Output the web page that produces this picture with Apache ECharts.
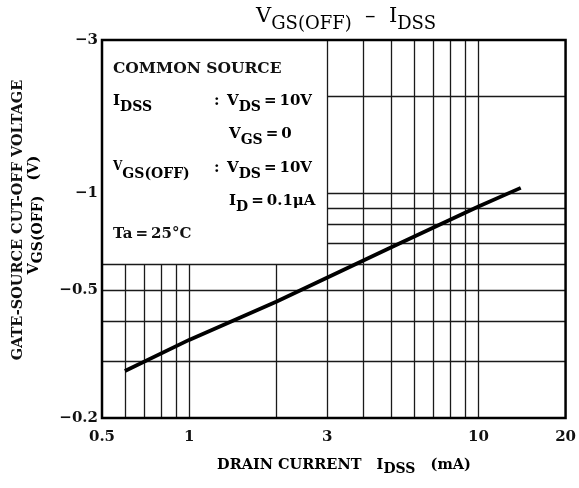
<!DOCTYPE html>
<html>
<head>
<meta charset="utf-8">
<script src="https://cdn.jsdelivr.net/npm/echarts@6/dist/echarts.min.js"></script>
<style>
html,body{margin:0;padding:0;background:#fff;}
#c{width:579px;height:488px;}
</style>
</head>
<body>
<div id="c"></div>
<script>
// Data (IDSS in mA, VGS(OFF) in V)
const idss = [0.6, 1, 2, 5, 10, 14];
const vgsOff = [-0.28, -0.35, -0.46, -0.68, -0.91, -1.04];

// Tick labels
const xTicks = [0.5, 1, 3, 10, 20];
const yTicks = [-0.2, -0.5, -1, -3];

// Grid lines (log grid); upper-left region is covered by the condition box
const xGridFull = [3, 4, 5, 6, 7, 8, 9, 10];
const xGridLow = [0.6, 0.7, 0.8, 0.9, 1, 2];
const yGridFull = [-0.3, -0.4, -0.5, -0.6];
const yGridRight = [-0.7, -0.8, -0.9, -1, -2];

const FONT = 'DejaVu Serif';
const xMin = 0.5, xMax = 20, yMin = 0.2, yMax = 3;
const boxX = 3, boxY = 0.6;

const gridSegs = [];
xGridFull.forEach(x => gridSegs.push([{coord: [x, yMin]}, {coord: [x, yMax]}]));
xGridLow.forEach(x => gridSegs.push([{coord: [x, yMin]}, {coord: [x, boxY]}]));
yGridFull.forEach(y => gridSegs.push([{coord: [xMin, -y]}, {coord: [xMax, -y]}]));
yGridRight.forEach(y => gridSegs.push([{coord: [boxX, -y]}, {coord: [xMax, -y]}]));

function richSet(main, subSize, weight, drop) {
  return {
    v: {fontFamily: FONT, fontWeight: weight, fontSize: main, color: '#111', verticalAlign: 'top', lineHeight: main + 2},
    s: {fontFamily: FONT, fontWeight: weight, fontSize: subSize, color: '#111', verticalAlign: 'bottom', lineHeight: main + 2 + drop},
    u: {fontFamily: FONT, fontWeight: weight, fontSize: main - 3, color: '#111', verticalAlign: 'top', lineHeight: main}
  };
}
const sub = richSet(15, 14, 'bold', 3);
const T = '\u2009=\u2009';

const chart = echarts.init(document.getElementById('c'), null, {renderer: 'canvas'});
chart.setOption({
  animation: false,
  backgroundColor: '#fff',
  grid: {left: 102, right: 13, top: 40, bottom: 70, show: true, borderColor: '#000', borderWidth: 2.5, z: 10},
  xAxis: {
    type: 'log', logBase: 10, min: xMin, max: xMax,
    axisLine: {show: false}, axisTick: {show: false}, splitLine: {show: false}, minorSplitLine: {show: false},
    axisLabel: {customValues: xTicks, margin: 12, fontFamily: FONT, fontWeight: 'bold', fontSize: 15, color: '#111',
      formatter: v => String(+v.toPrecision(3))}
  },
  yAxis: {
    type: 'log', logBase: 10, min: yMin, max: yMax,
    axisLine: {show: false}, axisTick: {show: false}, splitLine: {show: false}, minorSplitLine: {show: false},
    axisLabel: {customValues: yTicks.map(v => -v), margin: 4, fontFamily: FONT, fontWeight: 'bold', fontSize: 15, color: '#111',
      formatter: v => '\u2212' + String(+(+v).toPrecision(3))}
  },
  series: [
    {
      type: 'line', data: [], silent: true,
      markLine: {silent: true, symbol: 'none', label: {show: false},
        lineStyle: {color: '#1a1a1a', width: 1.3, type: 'solid'}, data: gridSegs, animation: false}
    },
    {
      type: 'line', data: idss.map((x, i) => [x, -vgsOff[i]]), showSymbol: false, symbol: 'none',
      lineStyle: {color: '#000', width: 3.8}, z: 5
    }
  ],
  graphic: [
    {type: 'text', x: 346, y: 20, style: {
      text: '{v|V}{s|GS(OFF)}{v|  \u2013  I}{s|DSS}', align: 'center', verticalAlign: 'middle',
      rich: richSet(21, 18, 'normal', 4)}},
    {type: 'text', x: 113, y: 69, style: {text: 'COMMON SOURCE', fontFamily: FONT, fontWeight: 'bold', fontSize: 15.5, fill: '#111', verticalAlign: 'middle'}},
    {type: 'text', x: 113, y: 104, style: {text: '{v|I}{s|DSS}', verticalAlign: 'middle', rich: sub}},
    {type: 'text', x: 214, y: 104, style: {text: '{v|:\u2002V}{s|DS}{v|' + T + '10V}', verticalAlign: 'middle', rich: sub}},
    {type: 'text', x: 229, y: 137, style: {text: '{v|V}{s|GS}{v|' + T + '0}', verticalAlign: 'middle', rich: sub}},
    {type: 'text', x: 113, y: 171, style: {text: '{u|V}{s|GS(OFF)}', verticalAlign: 'middle', rich: sub}},
    {type: 'text', x: 214, y: 171, style: {text: '{v|:\u2002V}{s|DS}{v|' + T + '10V}', verticalAlign: 'middle', rich: sub}},
    {type: 'text', x: 229, y: 204, style: {text: '{v|I}{s|D}{v|' + T + '0.1\u03bcA}', verticalAlign: 'middle', rich: sub}},
    {type: 'text', x: 113, y: 234, style: {text: 'Ta' + T + '25\u00b0C', fontFamily: FONT, fontWeight: 'bold', fontSize: 15, fill: '#111', verticalAlign: 'middle'}},
    {type: 'text', x: 344, y: 467, style: {text: '{v|DRAIN CURRENT   I}{s|DSS}{v|   (mA)}', align: 'center', verticalAlign: 'middle', rich: richSet(14.5, 14, 'bold', 3)}},
    {type: 'text', x: 18, y: 220, rotation: Math.PI / 2, style: {text: 'GATE-SOURCE CUT-OFF VOLTAGE', fontFamily: FONT, fontWeight: 'bold', fontSize: 14.5, fill: '#111', align: 'center', verticalAlign: 'middle'}},
    {type: 'text', x: 36, y: 215, rotation: Math.PI / 2, style: {text: '{v|V}{s|GS(OFF)}{v|   (V)}', align: 'center', verticalAlign: 'middle', rich: richSet(14.5, 14, 'bold', 3)}}
  ]
});
</script>
</body>
</html>
